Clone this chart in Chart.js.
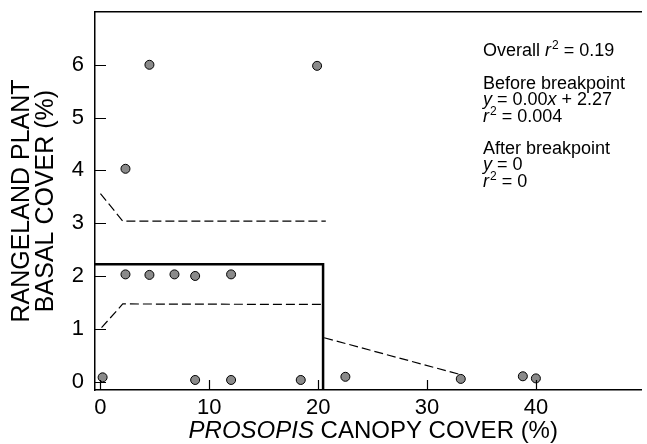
<!DOCTYPE html>
<html><head><meta charset="utf-8">
<script src="https://cdn.jsdelivr.net/npm/chart.js@4.4.0/dist/chart.umd.min.js"></script>
<style>html,body{margin:0;padding:0;background:#fff}#wrap{position:relative;width:647px;height:444px}</style>
</head><body><div id="wrap"><canvas id="c" width="647" height="444"></canvas></div>
<script>
// ---- data ----
const xTicks = [0, 10, 20, 30, 40];
const yTicks = [0, 1, 2, 3, 4, 5, 6];
const coverX = [0.2, 2.3, 2.3, 4.5, 4.5, 6.8, 8.7, 8.7, 12.0, 12.0, 18.4, 19.9, 22.5, 33.1, 38.8, 40.0];
const coverY = [0.08, 4.03, 2.03, 6.0, 2.02, 2.03, 2.0, 0.03, 2.03, 0.03, 0.03, 5.98, 0.09, 0.05, 0.1, 0.06];
const fitX = [-0.5, 20.45, 20.45];
const fitY = [2.22, 2.22, -0.16];
const upperX = [0, 2.05, 20.7];
const upperY = [3.56, 3.04, 3.04];
const lowerX = [0.1, 2.05, 20.4];
const lowerY = [1.02, 1.47, 1.46];
const afterX = [20.55, 33.1];
const afterY = [0.83, 0.13];
const xTitleItalic = 'PROSOPIS';
const xTitleRest = ' CANOPY COVER (%)';
const yTitle = ['RANGELAND PLANT', 'BASAL COVER (%)'];
// annotation lines: segments [text, style] (n normal, i italic, s superscript)
const notes = [
  [['Overall ', 'n'], ['r', 'i'], ['2', 's'], [' = 0.19', 'n']],
  [['Before breakpoint', 'n']],
  [['y', 'i'], [' = 0.00', 'n'], ['x', 'i'], [' + 2.27', 'n']],
  [['r', 'i'], ['2', 's'], [' = 0.004', 'n']],
  [['After breakpoint', 'n']],
  [['y', 'i'], [' = 0', 'n']],
  [['r', 'i'], ['2', 's'], [' = 0', 'n']]
];

const FAM = '"Liberation Sans", Arial, sans-serif';
const pts = (xs, ys) => xs.map((x, i) => ({x, y: ys[i]}));
const dashed = (xs, ys) => ({
  type: 'scatter', data: pts(xs, ys), showLine: true, pointRadius: 0,
  borderColor: '#000', borderWidth: 1.2, borderDash: [9, 4], fill: false
});
const noPad = s => { s.paddingTop = 0; s.paddingBottom = 0; s.paddingLeft = 0; s.paddingRight = 0; };

const textPlugin = {
  id: 'texts',
  afterDraw(chart) {
    const ctx = chart.ctx, ca = chart.chartArea;
    const xs = chart.scales.x, ys = chart.scales.y;
    ctx.save();
    // inward tick marks
    ctx.strokeStyle = '#000'; ctx.lineWidth = 1.2;
    ctx.beginPath();
    xTicks.forEach(v => {
      const px = Math.round(xs.getPixelForValue(v)) + 0.5;
      ctx.moveTo(px, ca.bottom); ctx.lineTo(px, ca.bottom - 10);
    });
    yTicks.forEach(v => {
      const py = Math.round(ys.getPixelForValue(v)) + 0.5;
      ctx.moveTo(ca.left, py); ctx.lineTo(ca.left + 11, py);
    });
    ctx.stroke();
    ctx.fillStyle = '#000';
    ctx.textBaseline = 'alphabetic';
    // x-axis title with italic genus
    const fi = 'italic 24px ' + FAM, fn = '24px ' + FAM;
    ctx.font = fi; const w1 = ctx.measureText(xTitleItalic).width;
    ctx.font = fn; const w2 = ctx.measureText(xTitleRest).width;
    let x0 = (ca.left + ca.right) / 2 - (w1 + w2) / 2 + 5;
    const yb = ca.bottom + 48;
    ctx.textAlign = 'left';
    ctx.font = fi; ctx.fillText(xTitleItalic, x0, yb);
    ctx.font = fn; ctx.fillText(xTitleRest, x0 + w1, yb);
    // annotation block
    const bases = [56, 89, 105, 122, 154, 170, 187];
    const nx = 483;
    notes.forEach((line, li) => {
      let x = nx;
      line.forEach(([t, st]) => {
        let dy = 0;
        if (st === 'i') ctx.font = 'italic 18px ' + FAM;
        else if (st === 's') { ctx.font = '12px ' + FAM; dy = -7; x += 1; }
        else ctx.font = '18px ' + FAM;
        ctx.fillText(t, x, bases[li] + dy);
        x += ctx.measureText(t).width;
      });
    });
    ctx.restore();
  }
};

new Chart(document.getElementById('c'), {
  type: 'scatter',
  data: {
    datasets: [
      {type: 'scatter', data: pts(fitX, fitY), showLine: true, pointRadius: 0, borderColor: '#000', borderWidth: 2.5, clip: false},
      dashed(upperX, upperY),
      dashed(lowerX, lowerY),
      dashed(afterX, afterY),
      {type: 'scatter', data: pts(coverX, coverY), pointRadius: 4.5, pointHoverRadius: 4.5,
       backgroundColor: '#8a8a8a', borderColor: '#000', borderWidth: 1}
    ]
  },
  options: {
    responsive: false, animation: false, devicePixelRatio: 1,
    layout: {padding: {top: 12, right: 0, left: 0, bottom: 0}},
    plugins: {legend: {display: false}, tooltip: {enabled: false}},
    scales: {
      x: {
        type: 'linear', position: 'bottom', min: -0.5, max: 49.7,
        afterBuildTicks: s => { s.ticks = xTicks.map(v => ({value: v})); },
        afterFit: s => { s.height = 54; noPad(s); },
        ticks: {color: '#000', font: {family: FAM, size: 22}, padding: 5, maxRotation: 0, autoSkip: false},
        grid: {drawOnChartArea: false, drawTicks: false},
        border: {display: true, color: '#000', width: 1.5}
      },
      y: {
        type: 'linear', position: 'left', min: -0.16, max: 7.0,
        afterBuildTicks: s => { s.ticks = yTicks.map(v => ({value: v})); },
        afterFit: s => { s.width = 95; noPad(s); },
        ticks: {color: '#000', font: {family: FAM, size: 22}, padding: 11, autoSkip: false},
        grid: {drawOnChartArea: false, drawTicks: false},
        border: {display: true, color: '#000', width: 1.5},
        title: {display: true, text: yTitle, color: '#000', font: {family: FAM, size: 25, lineHeight: 0.96}, padding: {top: 10, bottom: 0}}
      },
      top: {
        type: 'linear', position: 'top', min: -0.5, max: 49.7,
        afterFit: s => { s.height = 0; noPad(s); },
        ticks: {display: false},
        grid: {display: true, drawOnChartArea: false, drawTicks: false},
        border: {display: true, color: '#000', width: 1.5}
      }
    }
  },
  plugins: [textPlugin]
});
</script>
</body></html>
